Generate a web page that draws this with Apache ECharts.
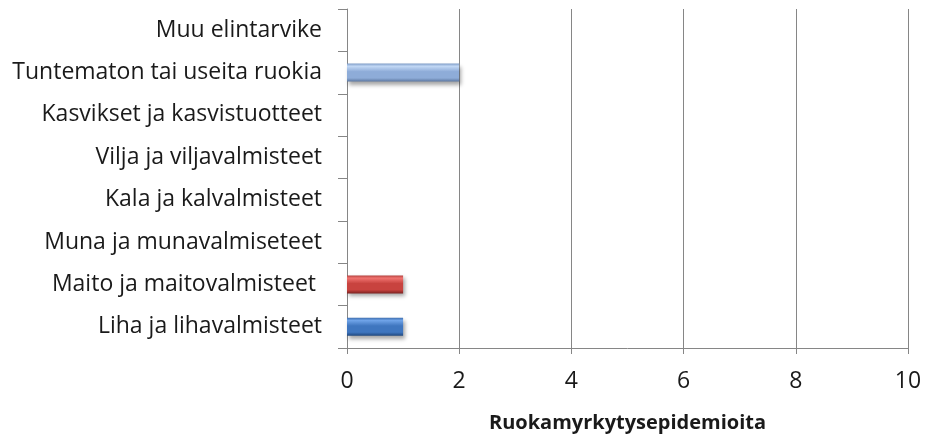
<!DOCTYPE html>
<html>

<head>
	<title>Ruokamyrkytysepidemiat</title>
	<script src="https://cdn.jsdelivr.net/npm/echarts@6/dist/echarts.min.js"></script>
</head>

<body style="margin:0">
	<div id="main" style="width: 925px;height:438px;"></div>
	<script type="text/javascript">
	var myChart = echarts.init(document.getElementById('main'));

	// luokat alhaalta ylös
	var categories = [
		'Liha ja lihavalmisteet',
		'Maito ja maitovalmisteet ',
		'Muna ja munavalmiseteet',
		'Kala ja kalvalmisteet',
		'Vilja ja viljavalmisteet',
		'Kasvikset ja kasvistuotteet',
		'Tuntematon tai useita ruokia',
		'Muu elintarvike'
	];
	var values = [1, 1, 0, 0, 0, 0, 2, 0];
	var xTicks = [0, 2, 4, 6, 8, 10];
	var xTitle = 'Ruokamyrkytysepidemioita';

	// viistetty "3D" palkki
	function bevel(edge, light, mid, dark) {
		return new echarts.graphic.LinearGradient(0, 0, 0, 1, [
			{ offset: 0, color: edge },
			{ offset: 0.15, color: light },
			{ offset: 0.45, color: mid },
			{ offset: 0.8, color: mid },
			{ offset: 1, color: dark }
		]);
	}
	var colors = [
		bevel('#3f6fb0', '#6fa3e8', '#3f76bf', '#1f477d'),
		bevel('#b4413e', '#f07370', '#c8433f', '#7c2220'),
		null, null, null, null,
		bevel('#7f9dc8', '#c2d8f5', '#8eacd8', '#5c77a0'),
		null
	];

	var data = values.map(function (v, i) {
		return {
			value: v,
			itemStyle: {
				color: colors[i] || '#4f81bd',
				shadowColor: 'rgba(0,0,0,0.35)',
				shadowBlur: 4,
				shadowOffsetX: 2,
				shadowOffsetY: 3
			}
		};
	});

	option = {
		backgroundColor: '#ffffff',
		animation: false,
		grid: {
			left: 347,
			right: 17,
			top: 9,
			bottom: 89,
			containLabel: false
		},
		xAxis: {
			type: 'value',
			min: xTicks[0],
			max: xTicks[xTicks.length - 1],
			interval: 2,
			name: xTitle,
			nameLocation: 'middle',
			nameGap: 65,
			nameTextStyle: {
				fontFamily: 'Open Sans',
				fontWeight: 'bold',
				fontSize: 20,
				color: '#1a1a1a'
			},
			axisLine: { show: true, lineStyle: { color: '#868686', width: 1 } },
			axisTick: { show: true, length: 6, lineStyle: { color: '#868686' } },
			axisLabel: {
				margin: 22,
				fontFamily: 'Open Sans',
				fontSize: 23,
				color: '#1a1a1a'
			},
			splitLine: { show: true, lineStyle: { color: '#868686', width: 1 } }
		},
		yAxis: {
			type: 'category',
			data: categories,
			boundaryGap: true,
			axisLine: { show: true, lineStyle: { color: '#868686', width: 1 } },
			axisTick: { show: true, length: 9, inside: false, lineStyle: { color: '#868686' } },
			axisLabel: {
				margin: 25,
				fontFamily: 'Open Sans',
				fontSize: 23,
				color: '#1a1a1a'
			},
			splitLine: { show: false }
		},
		series: [{
			type: 'bar',
			barWidth: 18,
			data: data
		}]
	};

	myChart.setOption(option);
	</script>
</body>

</html>
